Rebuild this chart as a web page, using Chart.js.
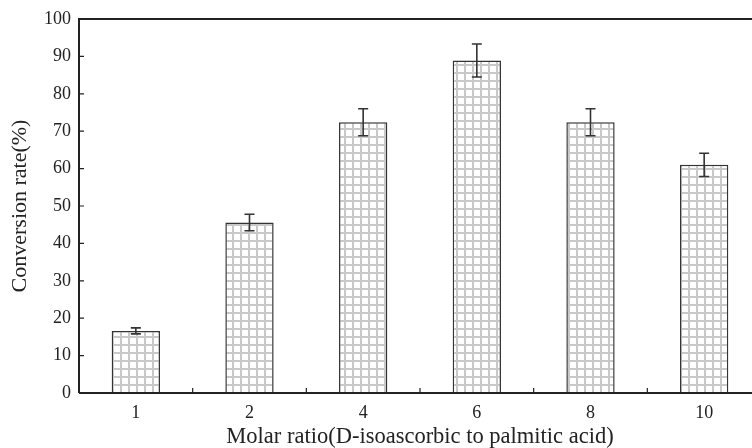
<!DOCTYPE html>
<html>
<head>
<meta charset="utf-8">
<script src="https://cdn.jsdelivr.net/npm/chart.js@4.4.1/dist/chart.umd.min.js"></script>
<style>
  html, body { margin: 0; padding: 0; background: #fff; overflow: hidden; }
  #wrap { width: 761px; height: 448px; }
</style>
</head>
<body>
<div id="wrap"><canvas id="chart" width="761" height="448"></canvas></div>
<script>
// data
const ratios = ['1', '2', '4', '6', '8', '10'];
const conversion = [16.6, 45.6, 72.4, 88.9, 72.4, 61.0];
const errors = [0.8, 2.2, 3.6, 4.4, 3.6, 3.1];
const yTicks = [0, 10, 20, 30, 40, 50, 60, 70, 80, 90, 100];

// grid hatch like the original bars
function gridPattern() {
  const c = document.createElement('canvas');
  c.width = 8; c.height = 8;
  const g = c.getContext('2d');
  g.fillStyle = '#fff';
  g.fillRect(0, 0, 8, 8);
  g.fillStyle = '#c8c8c8';
  g.fillRect(0, 0, 2, 8);
  g.fillRect(0, 0, 8, 2);
  return g.createPattern(c, 'repeat');
}

const ink = '#222';

// frame, inward ticks, error bars
const decor = {
  id: 'decor',
  afterDatasetsDraw(chart) {
    const ctx = chart.ctx;
    const a = chart.chartArea;
    const x = chart.scales.x, y = chart.scales.y;
    ctx.save();
    ctx.strokeStyle = ink;
    ctx.lineWidth = 2;
    ctx.beginPath();
    ctx.moveTo(a.left, a.bottom); ctx.lineTo(a.left, a.top); ctx.lineTo(a.right, a.top);
    ctx.moveTo(a.left, a.bottom); ctx.lineTo(a.right, a.bottom);
    ctx.stroke();

    ctx.lineWidth = 1.2;
    ctx.beginPath();
    yTicks.forEach(v => {
      const py = y.getPixelForValue(v);
      ctx.moveTo(a.left, py); ctx.lineTo(a.left + 5, py);
    });
    for (let i = 1; i < ratios.length; i++) {
      const px = (x.getPixelForValue(i - 1) + x.getPixelForValue(i)) / 2;
      ctx.moveTo(px, a.bottom); ctx.lineTo(px, a.bottom - 5);
    }
    ctx.stroke();

    const meta = chart.getDatasetMeta(0);
    ctx.strokeStyle = '#333';
    ctx.lineWidth = 1.6;
    ctx.beginPath();
    meta.data.forEach((bar, i) => {
      const hi = y.getPixelForValue(conversion[i] + errors[i]);
      const lo = y.getPixelForValue(conversion[i] - errors[i]);
      ctx.moveTo(bar.x, hi); ctx.lineTo(bar.x, lo);
      ctx.moveTo(bar.x - 5, hi); ctx.lineTo(bar.x + 5, hi);
      ctx.moveTo(bar.x - 5, lo); ctx.lineTo(bar.x + 5, lo);
    });
    ctx.stroke();
    ctx.restore();
  }
};

const serif = 'Liberation Serif, Times New Roman, serif';

new Chart(document.getElementById('chart'), {
  type: 'bar',
  data: {
    labels: ratios,
    datasets: [{
      data: conversion,
      backgroundColor: gridPattern(),
      borderColor: '#333',
      borderWidth: 1.5,
      borderSkipped: 'start',
      barPercentage: 0.85,
      categoryPercentage: 0.5
    }]
  },
  options: {
    responsive: false,
    animation: false,
    layout: { padding: { top: 19, right: 0, left: 0, bottom: 0 } },
    plugins: { legend: { display: false }, tooltip: { enabled: false } },
    scales: {
      x: {
        grid: { display: false, drawTicks: false },
        border: { display: false },
        ticks: { color: ink, font: { family: serif, size: 18 }, padding: 9 },
        title: { display: true, text: 'Molar ratio(D-isoascorbic to palmitic acid)', color: ink, font: { family: serif, size: 22.5 }, padding: { top: 0, bottom: -3 } },
        afterFit(s) { s.height = 55; }
      },
      y: {
        min: 0, max: 100,
        grid: { display: false, drawTicks: false },
        border: { display: false },
        ticks: { stepSize: 10, color: ink, font: { family: serif, size: 18 }, padding: 8 },
        title: { display: true, text: 'Conversion rate(%)', color: ink, font: { family: serif, size: 22 }, padding: { top: 7, bottom: 0 } },
        afterFit(s) { s.width = 79; }
      }
    }
  },
  plugins: [decor]
});
</script>
</body>
</html>
